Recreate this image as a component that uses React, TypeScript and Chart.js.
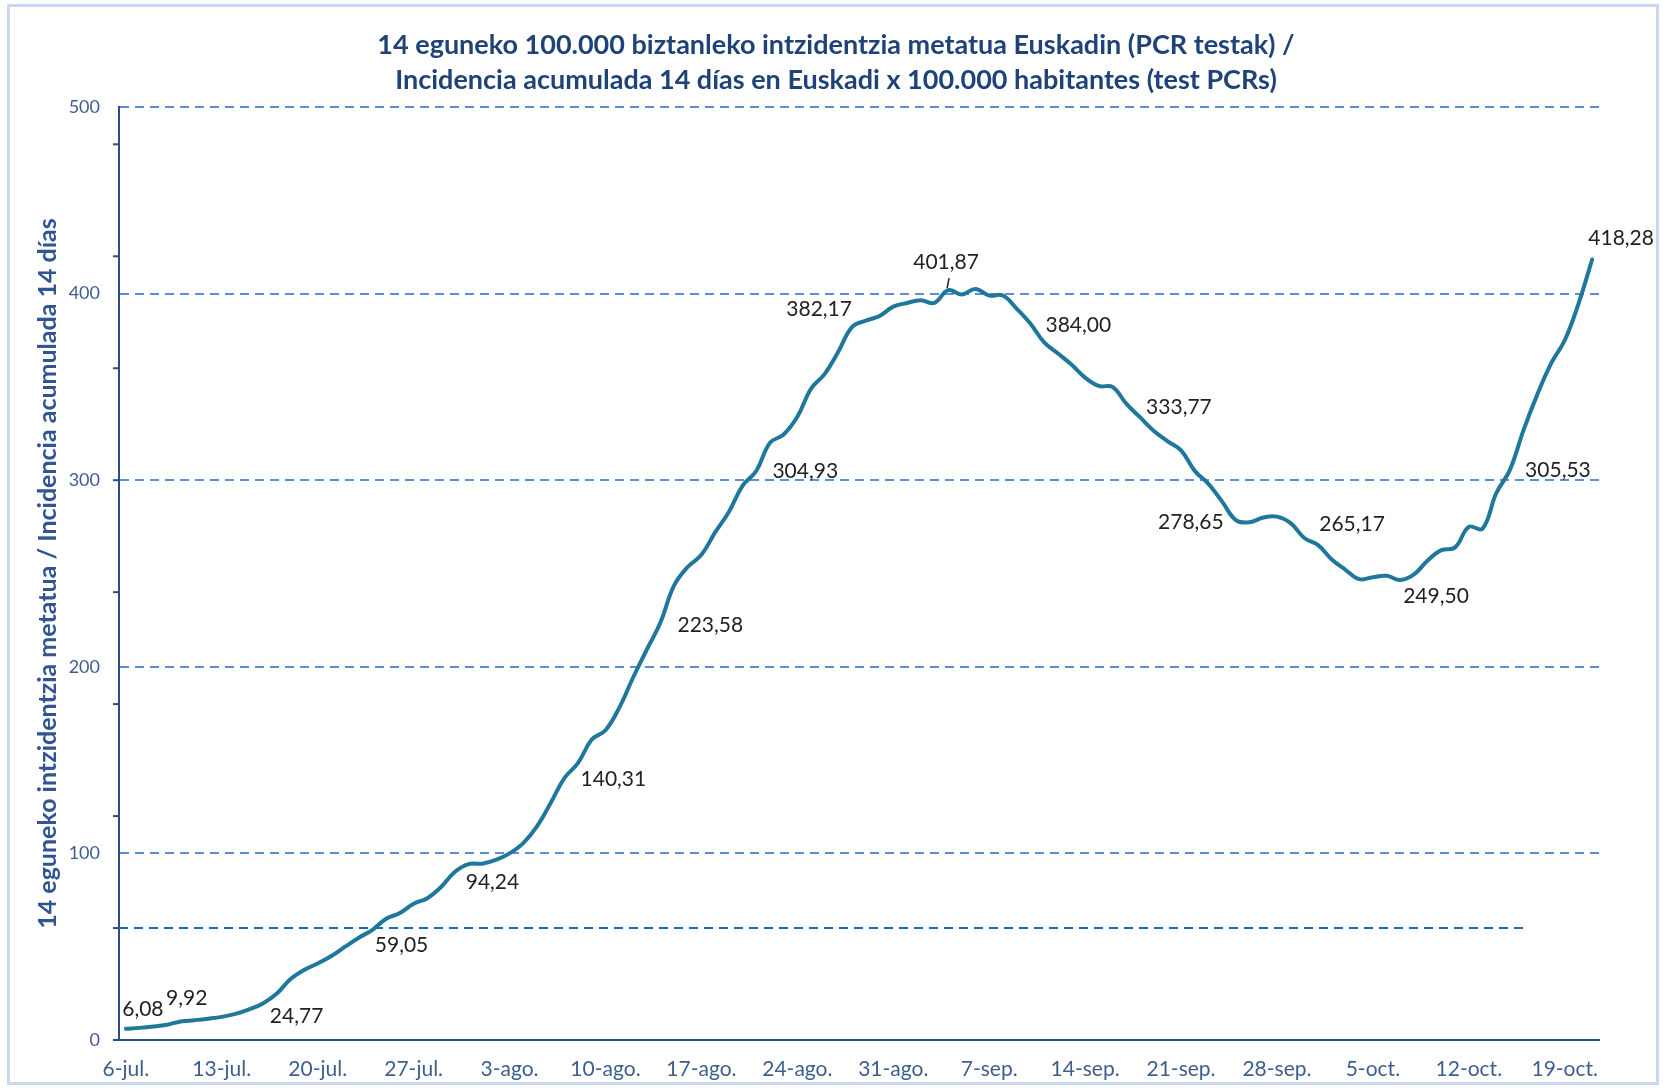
import React, { useEffect, useRef } from 'react';
import { Chart, registerables } from 'chart.js';

Chart.register(...registerables);

// ---------- data ----------
const START_YEAR = 2020;
const START_MONTH = 6; // July (0-based)
const START_DAY = 6;
const MONTHS = ['ene', 'feb', 'mar', 'abr', 'may', 'jun', 'jul', 'ago', 'sep', 'oct', 'nov', 'dic'];

// 14-day cumulative incidence per 100.000, one value per day from 6-jul to 21-oct
const VALUES: number[] = [
  6.08, 6.5, 7.2, 8.2, 9.92, 10.6, 11.4, 12.4, 14.0, 16.4,
  19.6, 24.77, 32.5, 37.5, 41.0, 45.0, 50.0, 54.8, 59.05, 65.0,
  68.0, 73.0, 76.0, 82.0, 90.0, 94.24, 94.5, 96.5, 100.0, 105.5,
  114.5, 127.0, 140.31, 148.5, 161.0, 166.0, 178.0, 194.0, 209.0, 223.58,
  243.5, 253.5, 260.0, 272.0, 283.0, 297.0, 304.93, 320.0, 324.5, 334.0,
  349.0, 357.0, 369.0, 382.17, 385.5, 388.0, 393.0, 395.0, 396.5, 395.0,
  401.87, 399.5, 402.5, 399.0, 399.0, 392.0, 384.0, 374.0, 368.0, 362.0,
  355.0, 350.5, 350.0, 341.0, 333.77, 326.5, 321.0, 316.0, 305.0, 298.0,
  288.5, 278.65, 277.5, 280.0, 280.5, 277.0, 269.0, 265.17, 257.5, 252.0,
  247.0, 248.0, 248.8, 246.5, 249.5, 257.0, 262.5, 264.0, 275.0, 274.0,
  293.0, 305.53, 327.0, 346.0, 362.5, 375.0, 394.5, 418.28,
];

// dates of the category axis
const CATEGORIES: string[] = VALUES.map((_, i) => {
  const d = new Date(START_YEAR, START_MONTH, START_DAY + i);
  return `${d.getDate()}-${MONTHS[d.getMonth()]}.`;
});
const TICK_EVERY = 7;

// points that carry a value label
const LABELLED_POINTS = [0, 4, 11, 18, 25, 32, 39, 46, 53, 60, 66, 74, 81, 87, 94, 101, 107];
const LEADER_POINTS = [60];

const THRESHOLD = 60;
const THRESHOLD_END_INDEX = 102;
const Y_MIN = 0;
const Y_MAX = 500;
const Y_STEP = 100;
const MINOR_TICK_STEP = 60;

const TITLE_LINES = [
  '14 eguneko 100.000 biztanleko intzidentzia metatua Euskadin (PCR testak) /',
  'Incidencia acumulada 14 días en Euskadi x 100.000 habitantes (test PCRs)',
];
const Y_TITLE = '14 eguneko intzidentzia metatua / Incidencia acumulada 14 días';

// ---------- styles ----------
const LABEL_OFFSETS: [number, number][] = [
  [17, -19], [6, -23], [20, 22], [29, 15], [24, 18], [49, 1], [50, 2], [49, 0],
  [-33, -18], [-2, -28], [48, 2], [39, -10], [-45, 2], [34, -21], [22, 22], [48, 0], [29, -21],
];
const LINE_COLOR = '#1f779b';
const GRID_COLOR = '#5b8fd8';
const THRESHOLD_COLOR = '#0a6fc2';
const AXIS_COLOR = '#2c4d80';
const TICK_COLOR = '#3d5f90';
const TITLE_COLOR = '#1f4378';
const YTITLE_COLOR = '#2f5597';
const FRAME_COLOR = '#c6d9f1';
const FONT = 'Lato, "Open Sans", "Liberation Sans", sans-serif';

const fmt = (v: number) => v.toFixed(2).replace('.', ',');

const decorPlugin = {
  id: 'decor',
  beforeDraw(chart: any) {
    const { ctx, width, height } = chart;
    ctx.save();
    ctx.fillStyle = '#ffffff';
    ctx.fillRect(0, 0, width, height);
    ctx.strokeStyle = FRAME_COLOR;
    ctx.lineWidth = 3;
    ctx.strokeRect(8.5, 5.5, 1649, 1078);
    // title
    ctx.fillStyle = TITLE_COLOR;
    ctx.font = `bold 27px ${FONT}`;
    ctx.textAlign = 'center';
    ctx.textBaseline = 'middle';
    ctx.fillText(TITLE_LINES[0], 836, 45);
    ctx.fillText(TITLE_LINES[1], 836, 80);
    ctx.restore();
  },
  beforeDatasetsDraw(chart: any) {
    const { ctx, chartArea, scales } = chart;
    const x = scales.x;
    const y = scales.y;
    ctx.save();
    // threshold line
    const ty = y.getPixelForValue(THRESHOLD);
    ctx.strokeStyle = THRESHOLD_COLOR;
    ctx.lineWidth = 2;
    ctx.setLineDash([9, 6]);
    ctx.beginPath();
    ctx.moveTo(chartArea.left, ty);
    ctx.lineTo(x.getPixelForValue(THRESHOLD_END_INDEX), ty);
    ctx.stroke();
    ctx.setLineDash([]);
    // minor ticks on the y axis
    ctx.strokeStyle = AXIS_COLOR;
    ctx.lineWidth = 2;
    for (let v = Y_MIN; v <= Y_MAX; v += MINOR_TICK_STEP) {
      const py = y.getPixelForValue(v);
      ctx.beginPath();
      ctx.moveTo(chartArea.left - 6, py);
      ctx.lineTo(chartArea.left, py);
      ctx.stroke();
    }
    ctx.restore();
  },
  afterDatasetsDraw(chart: any) {
    const { ctx } = chart;
    const meta = chart.getDatasetMeta(0);
    ctx.save();
    ctx.fillStyle = '#222222';
    ctx.font = `21px ${FONT}`;
    ctx.textAlign = 'center';
    ctx.textBaseline = 'middle';
    LABELLED_POINTS.forEach((idx, k) => {
      const pt = meta.data[idx];
      const [dx, dy] = LABEL_OFFSETS[k];
      ctx.fillText(fmt(VALUES[idx]), pt.x + dx, pt.y + dy);
    });
    ctx.strokeStyle = '#222222';
    ctx.lineWidth = 1.5;
    LEADER_POINTS.forEach((idx) => {
      const pt = meta.data[idx];
      ctx.beginPath();
      ctx.moveTo(pt.x - 1, pt.y - 2);
      ctx.lineTo(pt.x + 1, pt.y - 12);
      ctx.stroke();
    });
    ctx.restore();
  },
};

export default function App() {
  const canvasRef = useRef<HTMLCanvasElement | null>(null);

  useEffect(() => {
    if (!canvasRef.current) return;
    const chart = new Chart(canvasRef.current, {
      type: 'line',
      data: {
        labels: CATEGORIES,
        datasets: [
          {
            data: VALUES,
            borderColor: LINE_COLOR,
            borderWidth: 4,
            pointRadius: 0,
            tension: 0.4,
            fill: false,
            borderCapStyle: 'round',
            borderJoinStyle: 'round',
          },
        ],
      },
      options: {
        responsive: false,
        animation: false,
        devicePixelRatio: 1,
        layout: { padding: { top: 107, right: 64, bottom: 0, left: 0 } },
        plugins: {
          legend: { display: false },
          tooltip: { enabled: false },
          title: { display: false },
        },
        scales: {
          x: {
            type: 'category',
            offset: true,
            grid: { display: false, drawTicks: false },
            border: { display: true, color: AXIS_COLOR, width: 2 },
            ticks: {
              autoSkip: false,
              maxRotation: 0,
              minRotation: 0,
              color: TICK_COLOR,
              font: { family: FONT, size: 21 },
              padding: 17,
              callback: (_v: any, i: number) => (i % TICK_EVERY === 0 ? CATEGORIES[i] : null),
            },
            afterFit: (s: any) => {
              s.height = 49;
            },
          },
          y: {
            min: Y_MIN,
            max: Y_MAX,
            ticks: {
              stepSize: Y_STEP,
              color: TICK_COLOR,
              font: { family: FONT, size: 18 },
              padding: 19,
            },
            grid: {
              color: (c: any) => (c.tick && c.tick.value === 0 ? 'rgba(0,0,0,0)' : GRID_COLOR),
              lineWidth: 2,
              drawTicks: false,
            },
            border: { display: true, color: AXIS_COLOR, width: 2, dash: [9, 6] },
            title: {
              display: true,
              text: Y_TITLE,
              color: YTITLE_COLOR,
              font: { family: FONT, size: 25, weight: 'bold' },
              padding: { top: 33, bottom: 0 },
            },
            afterFit: (s: any) => {
              s.width = 119;
            },
          },
        },
      },
      plugins: [decorPlugin],
    } as any);
    return () => chart.destroy();
  }, []);

  return (
    <div style={{ position: 'fixed', left: 0, top: 0, width: 1663, height: 1089, background: '#fff' }}>
      <canvas ref={canvasRef} width={1663} height={1089} style={{ width: 1663, height: 1089, display: 'block' }} />
    </div>
  );
}
